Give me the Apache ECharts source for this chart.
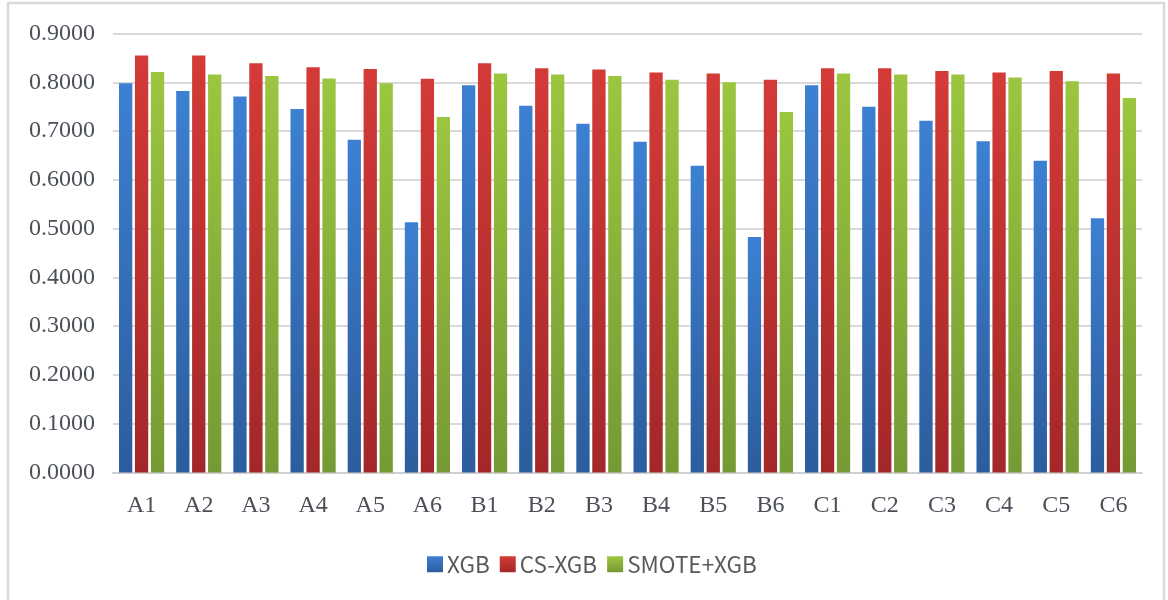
<!DOCTYPE html>
<html>
<head>
<meta charset="utf-8">
<script src="https://cdn.jsdelivr.net/npm/echarts@6/dist/echarts.min.js"></script>
<style>
  html, body { margin: 0; padding: 0; background: #fff; }
  #chart { width: 1168px; height: 600px; }
</style>
</head>
<body>
<div id="chart"></div>
<script>
// Sample groups along the x axis
const categories = ['A1','A2','A3','A4','A5','A6','B1','B2','B3','B4','B5','B6','C1','C2','C3','C4','C5','C6'];

// Scores per model
const xgb      = [0.798,0.782,0.771,0.745,0.682,0.513,0.794,0.752,0.715,0.678,0.629,0.483,0.794,0.750,0.721,0.679,0.639,0.521];
const csXgb    = [0.855,0.855,0.839,0.831,0.827,0.807,0.839,0.829,0.826,0.820,0.818,0.805,0.829,0.829,0.823,0.820,0.823,0.818];
const smoteXgb = [0.821,0.816,0.813,0.808,0.798,0.729,0.818,0.816,0.813,0.805,0.800,0.739,0.818,0.816,0.816,0.810,0.802,0.768];

const seriesNames = ['XGB', 'CS-XGB', 'SMOTE+XGB'];

function grad(top, bottom) {
  return new echarts.graphic.LinearGradient(0, 0, 0, 1, [
    { offset: 0, color: top },
    { offset: 1, color: bottom }
  ]);
}

const chart = echarts.init(document.getElementById('chart'), null, { renderer: 'canvas' });

chart.setOption({
  animation: false,
  backgroundColor: '#ffffff',
  graphic: [{
    type: 'rect',
    shape: { x: 8, y: 3, width: 1156, height: 610 },
    style: { fill: 'none', stroke: '#d9d9d9', lineWidth: 2.5 },
    silent: true
  }],
  grid: { left: 113, right: 26, top: 33.5, bottom: 127.5 },
  legend: {
    left: 422,
    top: 548,
    itemWidth: 16,
    itemHeight: 16,
    itemGap: 10,
    icon: 'rect',
    textStyle: { fontFamily: '"Noto Sans CJK SC", "Noto Sans", sans-serif', fontSize: 22.5, color: '#595959', padding: [0, 0, 0, -1] },
    data: seriesNames
  },
  xAxis: {
    type: 'category',
    data: categories,
    axisLine: { lineStyle: { color: '#d0d0d0', width: 2 } },
    axisTick: { show: false },
    axisLabel: { margin: 21, fontFamily: '"Liberation Serif", "Times New Roman", serif', fontSize: 24, color: '#4a4f58' }
  },
  yAxis: {
    type: 'value',
    min: 0,
    max: 0.9,
    interval: 0.1,
    axisLine: { show: false },
    axisTick: { show: false },
    splitLine: { lineStyle: { color: '#d9d9d9', width: 2 } },
    axisLabel: {
      margin: 18,
      fontFamily: '"Liberation Serif", "Times New Roman", serif',
      fontSize: 24,
      color: '#4a4f58',
      formatter: v => v.toFixed(4)
    }
  },
  series: [
    {
      name: seriesNames[0], type: 'bar', data: xgb,
      barGap: '20%', barCategoryGap: '21%',
      itemStyle: { color: grad('#3d80d2', '#2c5d9c') }
    },
    {
      name: seriesNames[1], type: 'bar', data: csXgb,
      barGap: '20%', barCategoryGap: '21%',
      itemStyle: { color: grad('#d33b37', '#a32729') }
    },
    {
      name: seriesNames[2], type: 'bar', data: smoteXgb,
      barGap: '20%', barCategoryGap: '21%',
      itemStyle: { color: grad('#9cc63f', '#759a35') }
    }
  ]
});
</script>
</body>
</html>
